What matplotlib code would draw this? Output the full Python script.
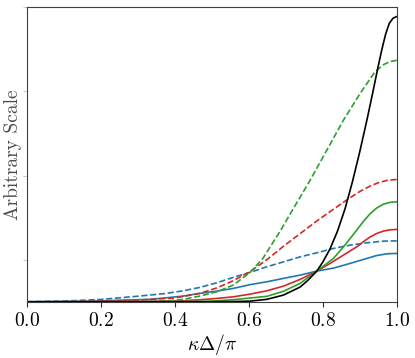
import matplotlib.pyplot as plt

plt.rcParams['font.family'] = 'cmr10'
plt.rcParams['mathtext.fontset'] = 'cm'
plt.rcParams['axes.formatter.use_mathtext'] = True
plt.rcParams['font.size'] = 14

# values (y in arbitrary units, 0 .. 3.5)
x_black = [0.0, 0.5, 0.55, 0.604, 0.649, 0.694, 0.739, 0.76, 0.784, 0.8, 0.82, 0.84,
           0.86, 0.88, 0.9, 0.92, 0.935, 0.95, 0.96, 0.97, 0.98, 0.99, 1.0]
y_black = [0.0, 0.0, 0.002, 0.008, 0.029, 0.080, 0.175, 0.255, 0.365, 0.47, 0.63, 0.84,
           1.10, 1.42, 1.78, 2.17, 2.48, 2.80, 3.00, 3.18, 3.31, 3.37, 3.39]

x_green_d = [0.0, 0.3, 0.378, 0.423, 0.468, 0.514, 0.558, 0.604, 0.639, 0.685, 0.721,
             0.766, 0.811, 0.856, 0.901, 0.941, 0.965, 0.982, 1.0]
y_green_d = [0.0, 0.0, 0.008, 0.029, 0.068, 0.119, 0.198, 0.35, 0.52, 0.84, 1.11,
             1.445, 1.801, 2.158, 2.475, 2.732, 2.82, 2.855, 2.870]

x_red_d = [0.0, 0.1, 0.2, 0.3, 0.4, 0.468, 0.514, 0.558, 0.604, 0.649, 0.694, 0.739,
           0.784, 0.829, 0.865, 0.9, 0.928, 0.95, 0.975, 1.0]
y_red_d = [0.0, 0.001, 0.006, 0.02, 0.045, 0.10, 0.165, 0.25, 0.36, 0.50, 0.66, 0.81,
           0.96, 1.10, 1.21, 1.31, 1.375, 1.415, 1.444, 1.454]

x_green_s = [0.0, 0.4, 0.468, 0.514, 0.558, 0.604, 0.649, 0.694, 0.739, 0.784, 0.829,
             0.860, 0.892, 0.91, 0.928, 0.946, 0.964, 0.982, 1.0]
y_green_s = [0.0, 0.001, 0.005, 0.012, 0.025, 0.045, 0.065, 0.125, 0.219, 0.365, 0.515,
             0.673, 0.852, 0.955, 1.045, 1.115, 1.16, 1.182, 1.188]

x_red_s = [0.0, 0.3, 0.423, 0.468, 0.514, 0.558, 0.604, 0.649, 0.694, 0.739, 0.784,
           0.820, 0.856, 0.892, 0.91, 0.928, 0.946, 0.964, 0.982, 1.0]
y_red_s = [0.0, 0.003, 0.012, 0.024, 0.040, 0.059, 0.091, 0.131, 0.186, 0.266, 0.365,
           0.456, 0.555, 0.653, 0.715, 0.77, 0.812, 0.84, 0.855, 0.860]

x_blue_d = [0.0, 0.1, 0.2, 0.3, 0.378, 0.423, 0.468, 0.514, 0.558, 0.604, 0.649, 0.694,
            0.739, 0.784, 0.829, 0.874, 0.919, 0.964, 1.0]
y_blue_d = [0.0, 0.008, 0.028, 0.066, 0.100, 0.131, 0.171, 0.226, 0.290, 0.350, 0.416,
            0.475, 0.534, 0.582, 0.634, 0.673, 0.701, 0.721, 0.724]

x_blue_s = [0.0, 0.16, 0.25, 0.333, 0.378, 0.423, 0.468, 0.514, 0.558, 0.604, 0.649,
            0.694, 0.739, 0.784, 0.829, 0.874, 0.919, 0.946, 0.975, 1.0]
y_blue_s = [0.0, 0.007, 0.018, 0.029, 0.048, 0.068, 0.100, 0.127, 0.159, 0.204, 0.238,
            0.278, 0.317, 0.365, 0.400, 0.456, 0.515, 0.55, 0.571, 0.575]

fig = plt.figure(figsize=(4.15, 3.58), dpi=100)
ax = fig.add_axes([0.0643, 0.157, 0.8916, 0.8226])

lw = 1.2
ax.plot(x_blue_s, y_blue_s, color='#1f77b4', lw=lw)
ax.plot(x_blue_d, y_blue_d, color='#1f77b4', lw=lw, ls='--')
ax.plot(x_red_s, y_red_s, color='#d62728', lw=lw)
ax.plot(x_red_d, y_red_d, color='#d62728', lw=lw, ls='--')
ax.plot(x_green_s, y_green_s, color='#2ca02c', lw=lw)
ax.plot(x_green_d, y_green_d, color='#2ca02c', lw=lw, ls='--')
ax.plot(x_black, y_black, color='black', lw=lw)

ax.set_xlim(0, 1)
ax.set_ylim(0, 3.5)
ax.set_xticks([0.0, 0.2, 0.4, 0.6, 0.8, 1.0])
ax.set_yticks([0.5, 1.5, 2.5, 3.5])
ax.set_yticklabels([])
ax.tick_params(axis='y', length=3, color='0.75', width=0.6)
ax.tick_params(axis='x', length=3.5, color='0.2', width=0.8)
for s in ax.spines.values():
    s.set_color('0.25')
    s.set_linewidth(0.8)

ax.set_xlabel(r'$\kappa\Delta/\pi$', labelpad=2)
ax.set_ylabel('Arbitrary Scale', color='0.3')
ax.yaxis.set_label_coords(-0.012, 0.5)

fig.savefig('out.png', dpi=100)
